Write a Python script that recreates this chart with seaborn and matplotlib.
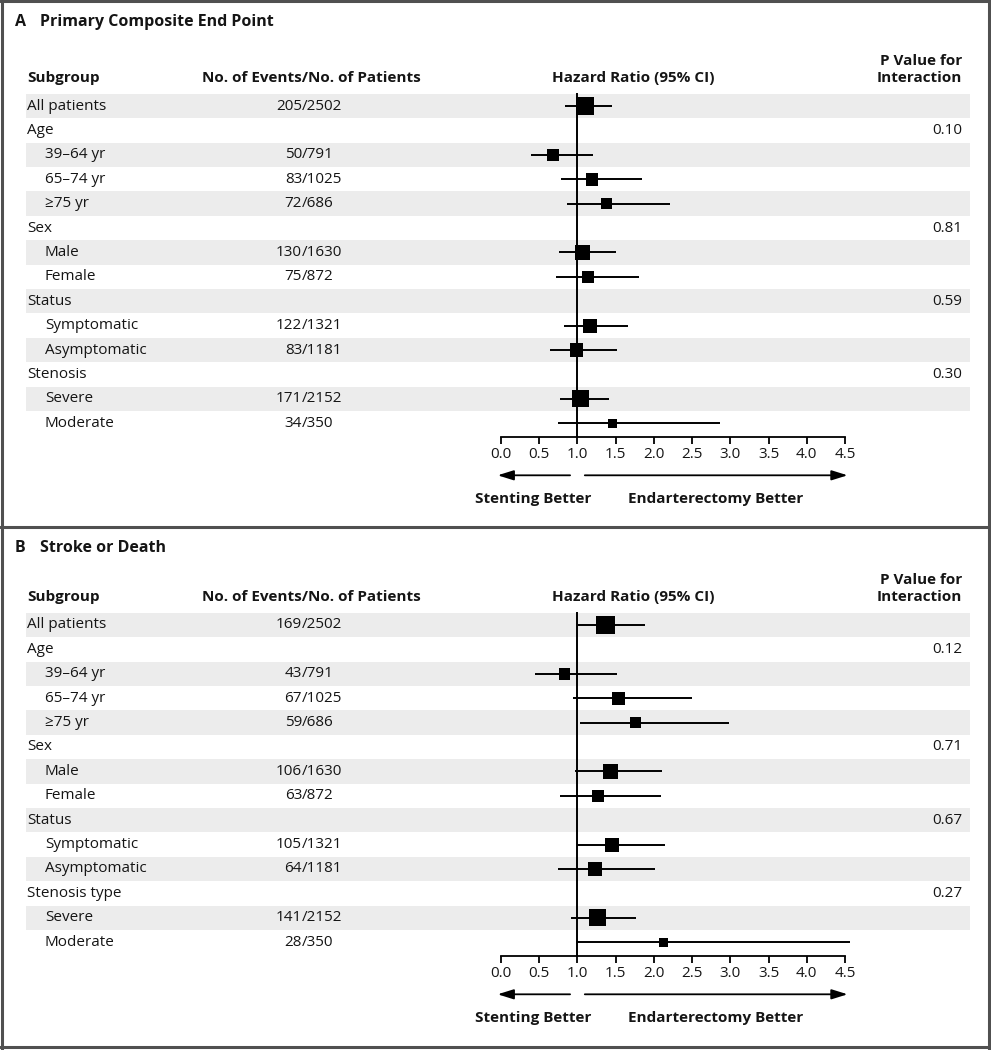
import numpy as np
import pandas as pd
import matplotlib.pyplot as plt
import matplotlib.transforms as mtransforms
import seaborn as sns

# rows shared by both panels
subgroups = ["All patients", "Age", "39\u201364 yr", "65\u201374 yr", "\u226575 yr",
             "Sex", "Male", "Female", "Status", "Symptomatic", "Asymptomatic",
             "Stenosis", "Severe", "Moderate"]
indent = [0, 0, 1, 1, 1, 0, 1, 1, 0, 1, 1, 0, 1, 1]
patients = [2502, None, 791, 1025, 686, None, 1630, 872, None, 1321, 1181, None, 2152, 350]

# panel A: primary composite end point
events_a = [205, None, 50, 83, 72, None, 130, 75, None, 122, 83, None, 171, 34]
hr_a = [1.10, None, 0.68, 1.19, 1.38, None, 1.07, 1.14, None, 1.17, 0.99, None, 1.04, 1.46]
lo_a = [0.84, None, 0.39, 0.78, 0.86, None, 0.76, 0.72, None, 0.83, 0.64, None, 0.77, 0.74]
hi_a = [1.45, None, 1.20, 1.85, 2.21, None, 1.51, 1.81, None, 1.66, 1.52, None, 1.41, 2.87]
pval_a = ["", "0.10", "", "", "", "0.81", "", "", "0.59", "", "", "0.30", "", ""]

# panel B: stroke or death
events_b = [169, None, 43, 67, 59, None, 106, 63, None, 105, 64, None, 141, 28]
hr_b = [1.37, None, 0.83, 1.54, 1.76, None, 1.43, 1.27, None, 1.45, 1.23, None, 1.26, 2.12]
lo_b = [1.01, None, 0.45, 0.94, 1.04, None, 0.97, 0.77, None, 0.99, 0.75, None, 0.91, 0.98]
hi_b = [1.88, None, 1.52, 2.50, 2.98, None, 2.11, 2.09, None, 2.14, 2.02, None, 1.76, 4.57]
pval_b = ["", "0.12", "", "", "", "0.71", "", "", "0.67", "", "", "0.27", "", ""]

sns.set_theme(style="white")
plt.rcParams["font.family"] = ["Open Sans", "DejaVu Sans"]
plt.rcParams["text.color"] = "#151515"
plt.rcParams["xtick.color"] = "#151515"

W, H = 991, 1050
fig = plt.figure(figsize=(W / 100, H / 100), dpi=100)
ROW = 24.4                      # pixels per row
X0, XS = 501, 76.44             # pixel of HR 0.0, pixels per HR unit
FS = 11


def px(x):
    return x / W


def draw_panel(top, bottom, row0, title_y, letter, title, labels, events, hr, lo, hi, pvals):
    ax = fig.add_axes([0, 1 - bottom / H, 1, (bottom - top) / H])
    ax.set_xlim(-X0 / XS, (W - X0) / XS)
    ax.set_ylim((bottom - row0) / ROW, -(row0 - top) / ROW)
    ax.patch.set_alpha(0)
    tr = mtransforms.blended_transform_factory(ax.transAxes, ax.transData)

    df = pd.DataFrame({"row": np.arange(len(labels)), "label": labels, "indent": indent,
                       "events": events, "patients": patients,
                       "hr": hr, "lo": lo, "hi": hi, "p": pvals})
    df[["hr", "lo", "hi", "patients"]] = df[["hr", "lo", "hi", "patients"]].astype(float)

    # alternating shaded bands
    for r in df.row[::2]:
        ax.axhspan(r - 0.5, r + 0.5, xmin=px(26), xmax=px(970), color="#ececec", lw=0, zorder=0)

    # reference line at HR = 1
    axis_row = 331 / ROW
    ax.vlines(1.0, -0.53, axis_row, color="black", lw=1.4, zorder=2)

    d = df.dropna(subset=["hr"])
    ax.hlines(d.row, d.lo, d.hi, color="black", lw=1.4, zorder=3)
    sns.scatterplot(data=d, x="hr", y="row", size="patients", sizes=(42, 177),
                    size_norm=(350, 2502), marker="s", color="black", linewidth=0,
                    legend=False, ax=ax, zorder=4)

    # text columns
    for _, r in df.iterrows():
        ax.text(px(27 + 18 * r.indent), r.row, r.label, transform=tr, ha="left",
                va="center", fontsize=FS)
        if not pd.isna(r.events):
            ax.text(px(302), r.row, f"{int(r.events)}", transform=tr, ha="right",
                    va="center", fontsize=FS)
            ax.text(px(302), r.row, f"/{int(r.patients)}", transform=tr, ha="left",
                    va="center", fontsize=FS)
        if r.p:
            ax.text(px(962), r.row, r.p, transform=tr, ha="right", va="center", fontsize=FS)

    # headers
    hy = -1.0
    hdr = dict(transform=tr, va="baseline", fontsize=FS, fontweight="bold")
    ax.text(px(27), hy, "Subgroup", ha="left", **hdr)
    ax.text(px(311), hy, "No. of Events/No. of Patients", ha="center", **hdr)
    ax.text(px(633), hy, "Hazard Ratio (95% CI)", ha="center", **hdr)
    ax.text(px(962), hy, "P Value for\nInteraction", ha="right", linespacing=1.25, **hdr)

    # panel title
    ty = (title_y - row0) / ROW
    ax.text(px(15), ty, letter, transform=tr, ha="left", va="center",
            fontsize=FS + 0.5, fontweight="bold")
    ax.text(px(40), ty, title, transform=tr, ha="left", va="center",
            fontsize=FS + 0.5, fontweight="bold")

    # hazard-ratio axis
    for s in ["top", "left", "right"]:
        ax.spines[s].set_visible(False)
    ax.spines["bottom"].set_position(("data", axis_row))
    ax.spines["bottom"].set_bounds(0, 4.5)
    ax.spines["bottom"].set_linewidth(1.3)
    ax.spines["bottom"].set_color("black")
    ticks = np.arange(0, 4.51, 0.5)
    ax.set_xticks(ticks)
    ax.set_xticklabels([f"{t:.1f}" for t in ticks])
    ax.tick_params(axis="x", direction="out", length=5, width=1.3, pad=2,
                   labelsize=FS, bottom=True, color="black")
    ax.set_yticks([])
    ax.set_xlabel("")
    ax.set_ylabel("")

    arrow_row = axis_row + 1.57
    arr = dict(arrowstyle="-|>,head_length=0.8,head_width=0.25", color="black", lw=1.3)
    ax.annotate("", xy=(-0.08, arrow_row), xytext=(0.94, arrow_row), arrowprops=arr)
    ax.annotate("", xy=(4.57, arrow_row), xytext=(1.06, arrow_row), arrowprops=arr)
    lab_row = axis_row + 2.55
    ax.text(0.42, lab_row, "Stenting Better", ha="center", va="center",
            fontsize=FS, fontweight="bold")
    ax.text(2.81, lab_row, "Endarterectomy Better", ha="center", va="center",
            fontsize=FS, fontweight="bold")
    return ax


labels_b = subgroups[:11] + ["Stenosis type"] + subgroups[12:]

draw_panel(0, 527, 106, 22, "A", "Primary Composite End Point", subgroups,
           events_a, hr_a, lo_a, hi_a, pval_a)
draw_panel(527, 1050, 625, 548, "B", "Stroke or Death", labels_b,
           events_b, hr_b, lo_b, hi_b, pval_b)

# frame around panels
frame = dict(transform=fig.transFigure, color="#505050", lw=2.2)
fig.add_artist(plt.Line2D([px(1.5), px(1.5)], [0, 1], **frame))
fig.add_artist(plt.Line2D([px(989), px(989)], [0, 1], **frame))
fig.add_artist(plt.Line2D([0, 1], [1 - 1 / H, 1 - 1 / H], **frame))
fig.add_artist(plt.Line2D([0, 1], [1 - 527 / H, 1 - 527 / H], **frame))
fig.add_artist(plt.Line2D([0, 1], [1 - 1047 / H, 1 - 1047 / H], **frame))

fig.savefig("out.png", dpi=100)
